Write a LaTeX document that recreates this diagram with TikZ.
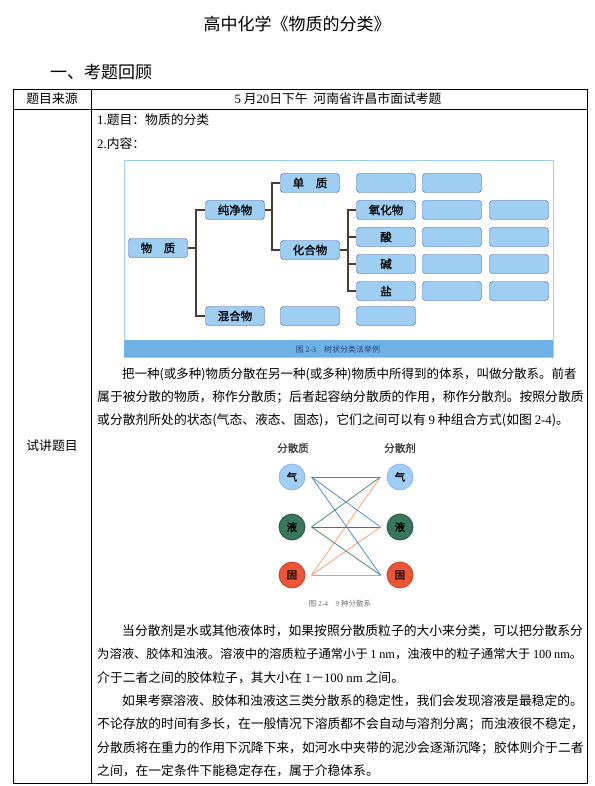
\documentclass[tikz,border=0pt]{standalone}
\usepackage{fontspec}
\setmainfont{Noto Sans CJK SC}
\newfontfamily\latin{Liberation Serif}
\newfontfamily\boxfont[FakeBold=1.2]{Noto Sans CJK SC}
\usetikzlibrary{positioning}
\XeTeXlinebreaklocale "zh"
\XeTeXlinebreakskip=0pt plus 1pt minus 0.4pt
\definecolor{boxblue}{RGB}{158,206,242}
\definecolor{boxline}{RGB}{58,92,168}
\definecolor{bandblue}{RGB}{110,178,232}
\definecolor{treeline}{RGB}{70,62,55}
\definecolor{gasfill}{RGB}{160,206,246}
\definecolor{gasline}{RGB}{62,132,222}
\definecolor{liqfill}{RGB}{58,118,92}
\definecolor{liqline}{RGB}{66,130,98}
\definecolor{solfill}{RGB}{238,84,54}
\definecolor{solline}{RGB}{250,152,104}
\newcommand{\bodyfont}{\fontsize{12.8pt}{15pt}\selectfont}
\newcommand{\fullline}[2]{\hbox to #1{#2}}

\begin{document}
\begin{tikzpicture}[x=1pt,y=-1pt,
  treebox/.style={draw=boxline,fill=boxblue,rounded corners=3pt,minimum width=59pt,minimum height=19pt,inner sep=0pt,font=\boxfont\fontsize{11.5}{12}\selectfont},
  branch/.style={draw=treeline,line width=1.1pt},
  phase/.style={circle,minimum size=26pt,inner sep=0pt,outer sep=6.5pt,line width=0.8pt,font=\boxfont\fontsize{10.5}{10}\selectfont},
  body/.style={anchor=west,inner sep=0pt,font=\bodyfont},
  cell/.style={inner sep=0pt,font=\bodyfont}]
\useasboundingbox (0,0) rectangle (594,786);
\fill[white] (0,0) rectangle (594,786);

\node[font=\fontsize{17}{17}\selectfont] (title) at (297,24) {高中化学《物质的分类》};
\node[font=\fontsize{17}{17}\selectfont,anchor=west,inner sep=0pt] (review) at (50,72) {一、考题回顾};

\draw[line width=0.8pt] (13,89) rectangle (587,783);
\draw[line width=0.8pt] (13,109) -- (587,109);
\draw[line width=0.8pt] (91,89) -- (91,783);
\node[cell] (srclbl) at (52,99) {题目来源};
\node[cell] (src) at (338,99) {{\latin 5} 月{\latin 20}日下午\ \ 河南省许昌市面试考题};
\node[cell] (tasklbl) at (52,446) {试讲题目};

\node[body] (topic) at (97,120) {{\latin 1.}题目：物质的分类};
\node[body] (content) at (97,144) {{\latin 2.}内容：};

\draw[draw=boxblue,fill=white] (124,160) rectangle (553,357);
\fill[bandblue] (124,340) rectangle (553,357);
\node[font=\fontsize{8}{8}\selectfont,text=boxline!70!black] (cap1) at (338,349) {图 {\latin 2-3}\quad 树状分类法举例};

\node[treebox] (matter) at (158,248) {物　质};
\node[treebox] (pure) at (235,210) {纯净物};
\node[treebox] (mixture) at (235,316) {混合物};
\node[treebox] (element) at (310,183) {单　质};
\node[treebox] (compound) at (310,250) {化合物};
\node[treebox] (oxide) at (386,210) {氧化物};
\node[treebox] (acid) at (386,237) {酸};
\node[treebox] (base) at (386,264) {碱};
\node[treebox] (salt) at (386,291) {盐};
\foreach \x/\y in {386/183,452/183,452/210,519/210,452/237,519/237,452/264,519/264,452/291,519/291,310/316,386/316}
  \node[treebox] (blank-\x-\y) at (\x,\y) {};

\coordinate (spineA) at (196,248);
\coordinate (spineB) at (272,210);
\coordinate (spineC) at (348,250);
\draw[branch] (matter.east) -- (spineA);
\draw[branch] (spineA) |- (pure.west);
\draw[branch] (spineA) |- (mixture.west);
\draw[branch] (pure.east) -- (spineB);
\draw[branch] (spineB) |- (element.west);
\draw[branch] (spineB) |- (compound.west);
\draw[branch] (compound.east) -- (spineC);
\foreach \k in {oxide,acid,base,salt}
  \draw[branch] (spineC) |- (\k.west);

\node[body,font=\fontsize{12.5pt}{15pt}\selectfont] (p1a) at (122,374) {\fullline{460pt}{把一种(或多种)物质分散在另一种(或多种)物质中所得到的体系，叫做分散系。前者}};
\node[body] (p1b) at (97,397) {\fullline{485pt}{属于被分散的物质，称作分散质；后者起容纳分散质的作用，称作分散剂。按照分散质}};
\node[body] (p1c) at (97,420) {或分散剂所处的状态(气态、液态、固态)，它们之间可以有 {\latin 9} 种组合方式(如图 {\latin 2-4})。};

\node[font=\boxfont\fontsize{10.5}{10}\selectfont,text=black!75] (dispersed) at (293,448) {分散质};
\node[font=\boxfont\fontsize{10.5}{10}\selectfont,text=black!75] (medium) at (400,448) {分散剂};
\node[phase,fill=gasfill,draw=gasline!60] (gasL) at (292,477) {气};
\node[phase,fill=liqfill,draw=liqfill!70!black] (liqL) at (292,527) {液};
\node[phase,fill=solfill,draw=solfill!80!black] (solL) at (292,575) {固};
\node[phase,fill=gasfill,draw=gasline!60] (gasR) at (400,477) {气};
\node[phase,fill=liqfill,draw=liqfill!70!black] (liqR) at (400,527) {液};
\node[phase,fill=solfill,draw=solfill!80!black] (solR) at (400,575) {固};
\foreach \r in {gasR,liqR,solR} {
  \draw[gasline,line width=0.7pt] (gasL.east) -- (\r.west);
  \draw[liqline,line width=0.7pt] (liqL.east) -- (\r.west);
  \draw[solline,line width=0.7pt] (solL.east) -- (\r.west);
}
\node[font=\fontsize{7.5}{8}\selectfont,text=black!55] (cap2) at (340,604) {图 {\latin 2-4}\quad {\latin 9} 种分散系};

\node[body] (p2a) at (122,631) {\fullline{460pt}{当分散剂是水或其他液体时，如果按照分散质粒子的大小来分类，可以把分散系分}};
\node[body,font=\fontsize{12.3pt}{15pt}\selectfont] (p2b) at (97,654) {\fullline{485pt}{为溶液、胶体和浊液。溶液中的溶质粒子通常小于{\latin\ 1 nm}，浊液中的粒子通常大于{\latin\ 100 nm}。}};
\node[body] (p2c) at (97,678) {介于二者之间的胶体粒子，其大小在 {\latin 1}－{\latin 100 nm} 之间。};
\node[body] (p3a) at (122,701) {\fullline{460pt}{如果考察溶液、胶体和浊液这三类分散系的稳定性，我们会发现溶液是最稳定的。}};
\node[body] (p3b) at (97,724) {\fullline{485pt}{不论存放的时间有多长，在一般情况下溶质都不会自动与溶剂分离；而浊液很不稳定，}};
\node[body] (p3c) at (97,748) {\fullline{485pt}{分散质将在重力的作用下沉降下来，如河水中夹带的泥沙会逐渐沉降；胶体则介于二者}};
\node[body] (p3d) at (97,771) {之间，在一定条件下能稳定存在，属于介稳体系。};
\end{tikzpicture}
\end{document}
